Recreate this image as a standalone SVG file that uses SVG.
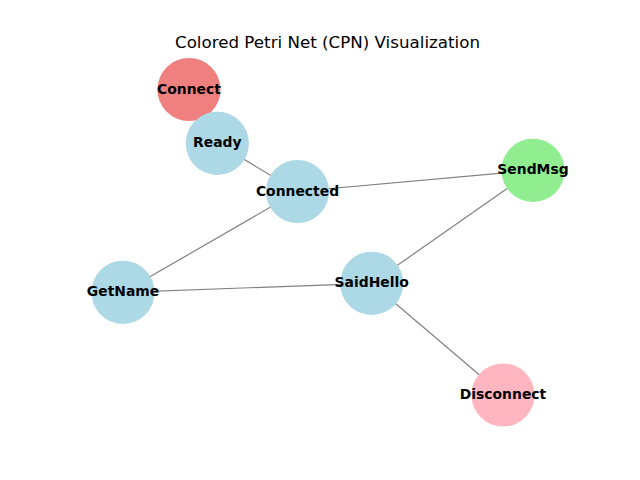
<svg xmlns="http://www.w3.org/2000/svg" width="640" height="480" viewBox="0 0 640 480">
<style>
.n{stroke:none}
.l{font-family:"DejaVu Sans",sans-serif;font-weight:bold;font-size:13.9px;text-anchor:middle;dominant-baseline:central;fill:#000}
.e line{stroke:#808080;stroke-width:1.2}
</style>
<rect width="640" height="480" fill="#fff"/>
<text x="327.5" y="48" font-family="DejaVu Sans,sans-serif" font-size="16.7" text-anchor="middle" fill="#000">Colored Petri Net (CPN) Visualization</text>
<g class="e" id="edges">
<line x1="189" y1="89.5" x2="217.3" y2="143.3"/>
<line x1="217.3" y1="143.3" x2="297.5" y2="191.5"/>
<line x1="297.5" y1="191.5" x2="533" y2="170.3"/>
<line x1="297.5" y1="191.5" x2="123" y2="292.3"/>
<line x1="123" y1="292.3" x2="371.7" y2="283.3"/>
<line x1="371.7" y1="283.3" x2="533" y2="170.3"/>
<line x1="371.7" y1="283.3" x2="503" y2="395"/>
</g>
<g id="node-Connect"><circle class="n" cx="189" cy="89.5" r="31.6" fill="#F08080"/><text class="l" x="189" y="88.5">Connect</text></g>
<g id="node-Ready"><circle class="n" cx="217.3" cy="143.3" r="31.6" fill="#ADD8E6"/><text class="l" x="217.3" y="142.3">Ready</text></g>
<g id="node-Connected"><circle class="n" cx="297.5" cy="191.5" r="31.6" fill="#ADD8E6"/><text class="l" x="297.5" y="190.5">Connected</text></g>
<g id="node-SendMsg"><circle class="n" cx="533" cy="170.3" r="31.6" fill="#90EE90"/><text class="l" x="533" y="169.3">SendMsg</text></g>
<g id="node-GetName"><circle class="n" cx="123" cy="292.3" r="31.6" fill="#ADD8E6"/><text class="l" x="123" y="291.3">GetName</text></g>
<g id="node-SaidHello"><circle class="n" cx="371.7" cy="283.3" r="31.6" fill="#ADD8E6"/><text class="l" x="371.7" y="282.3">SaidHello</text></g>
<g id="node-Disconnect"><circle class="n" cx="503" cy="395" r="31.6" fill="#FFB6C1"/><text class="l" x="503" y="394">Disconnect</text></g>
</svg>
